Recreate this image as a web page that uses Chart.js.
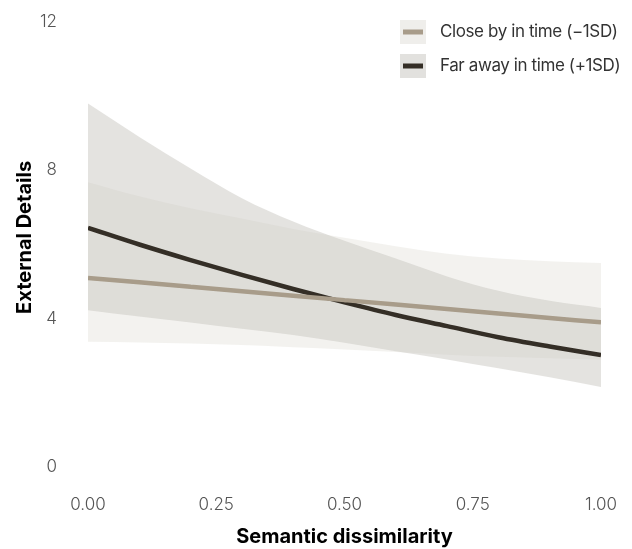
<!DOCTYPE html>
<html><head><meta charset="utf-8">
<script src="https://cdn.jsdelivr.net/npm/chart.js@4.4.1/dist/chart.umd.min.js"></script>
<style>html,body{margin:0;padding:0;background:#fff;overflow:hidden}</style>
</head><body>
<canvas id="c" width="632" height="549" style="display:block;width:632px;height:549px"></canvas>
<script>
// ---- data ----
const xValues    = [0.0, 0.1, 0.2, 0.3, 0.4, 0.5, 0.6, 0.7, 0.8, 0.9, 1.0];
const closeFit   = [5.10, 4.98, 4.86, 4.74, 4.62, 4.50, 4.38, 4.26, 4.14, 4.02, 3.90];
const closeUpper = [7.68, 7.30, 6.98, 6.70, 6.42, 6.18, 5.95, 5.75, 5.62, 5.55, 5.50];
const closeLower = [3.38, 3.36, 3.33, 3.29, 3.23, 3.17, 3.10, 3.03, 2.97, 2.93, 2.89];
const farFit     = [6.45, 6.00, 5.58, 5.18, 4.80, 4.44, 4.10, 3.80, 3.50, 3.25, 3.02];
const farUpper   = [9.80, 8.90, 8.05, 7.25, 6.62, 6.10, 5.62, 5.14, 4.75, 4.48, 4.29];
const farLower   = [4.23, 4.06, 3.90, 3.73, 3.56, 3.35, 3.12, 2.90, 2.66, 2.42, 2.16];
const seriesLabels = ['Close by in time (\u22121SD)', 'Far away in time (+1SD)'];
const xTicks = [0, 0.25, 0.5, 0.75, 1.0];
const yTicks = [0, 4, 8, 12];
const xTitle = 'Semantic dissimilarity';
const yTitle = '   External Details';

const closeBand = 'rgba(215,212,202,0.3)';
const farBand   = 'rgba(201,199,193,0.5)';
const closeLine = '#a89c8a';
const farLine   = '#342e26';
const legendBoxes = ['#efeeeb', '#e2e1de'];

const pts = arr => arr.map((v, i) => ({x: xValues[i], y: v}));
const bandDs = (arr, bg, fill) => ({data: pts(arr), borderWidth: 0, pointRadius: 0, backgroundColor: bg, fill: fill, cubicInterpolationMode: 'monotone'});

const legendPlugin = {
  id: 'customLegend',
  afterDraw(chart) {
    const ctx = chart.ctx;
    const items = [chart.data.datasets[4], chart.data.datasets[5]];
    ctx.save();
    items.forEach((ds, i) => {
      const cy = 32 + i * 34;
      ctx.fillStyle = legendBoxes[i];
      ctx.fillRect(400, cy - 12, 26, 24);
      ctx.strokeStyle = ds.borderColor;
      ctx.lineWidth = 5;
      ctx.beginPath(); ctx.moveTo(403, cy); ctx.lineTo(423, cy); ctx.stroke();
      ctx.fillStyle = '#333';
      ctx.font = '400 17px Inter';
      if ('letterSpacing' in ctx) ctx.letterSpacing = '-0.4px';
      ctx.textBaseline = 'middle';
      ctx.textAlign = 'left';
      ctx.fillText(ds.label, 440, cy);
    });
    ctx.restore();
  }
};

new Chart(document.getElementById('c'), {
  type: 'line',
  data: {
    datasets: [
      bandDs(farUpper, farBand, '+1'),
      bandDs(farLower, farBand, false),
      bandDs(closeUpper, closeBand, '+1'),
      bandDs(closeLower, closeBand, false),
      {label: seriesLabels[0], data: pts(closeFit), borderColor: closeLine, borderWidth: 4.5, pointRadius: 0, fill: false, cubicInterpolationMode: 'monotone'},
      {label: seriesLabels[1], data: pts(farFit), borderColor: farLine, borderWidth: 4.5, pointRadius: 0, fill: false, cubicInterpolationMode: 'monotone'}
    ]
  },
  options: {
    responsive: false,
    animation: false,
    devicePixelRatio: 1,
    layout: {padding: {left: 0, right: 31, top: 22, bottom: 0}},
    plugins: {legend: {display: false}, tooltip: {enabled: false}, filler: {drawTime: 'beforeDatasetsDraw'}},
    scales: {
      x: {
        type: 'linear', min: 0, max: 1,
        grid: {display: false, drawTicks: false},
        border: {display: false},
        afterBuildTicks: s => { s.ticks = xTicks.map(v => ({value: v})); },
        afterFit: s => { s.height = 82; s.paddingLeft = 18; s.paddingRight = 18; },
        ticks: {padding: 28, color: '#555', font: {family: 'Inter', size: 17, weight: 300}, maxRotation: 0,
                callback: v => Number(v).toFixed(2)},
        title: {display: true, text: xTitle, color: '#000', font: {family: 'Inter', size: 20, weight: 700}, padding: {top: 0, bottom: 0}}
      },
      y: {
        min: 0, max: 12,
        grid: {display: false, drawTicks: false},
        border: {display: false},
        afterBuildTicks: s => { s.ticks = yTicks.map(v => ({value: v})); },
        afterFit: s => { s.width = 88; s.paddingTop = 10; s.paddingBottom = 10; },
        ticks: {padding: 31, color: '#555', font: {family: 'Inter', size: 17, weight: 300}},
        title: {display: true, text: yTitle, color: '#000', font: {family: 'Inter', size: 20, weight: 700}, padding: {top: 13, bottom: 0}}
      }
    }
  },
  plugins: [legendPlugin]
});
</script>
</body></html>
